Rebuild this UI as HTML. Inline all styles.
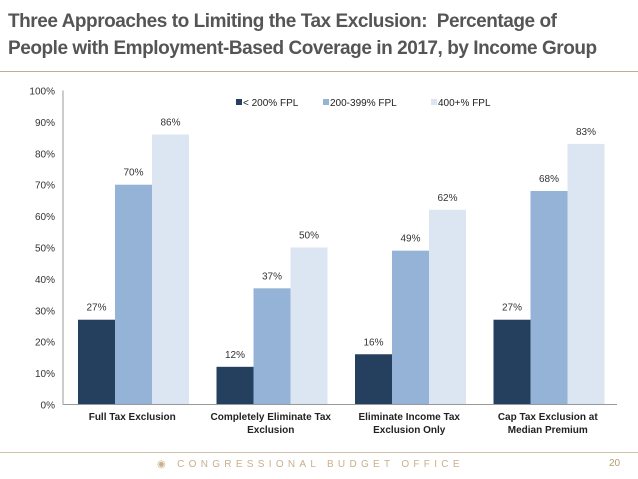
<!DOCTYPE html>
<html><head><meta charset="utf-8"><style>
body{margin:0;width:638px;height:479px;background:#fff;overflow:hidden;position:relative;font-family:"Liberation Sans",sans-serif}
.t{position:absolute;left:8px;top:8px;font-size:19px;font-weight:bold;color:#555;line-height:27px;letter-spacing:-0.45px;font-family:"Liberation Sans",sans-serif}
</style></head><body>
<div class="t">Three Approaches to Limiting the Tax Exclusion:&nbsp; Percentage of<br>People with Employment-Based Coverage in 2017, by Income Group</div>
<div style="position:absolute;left:0;top:71px;width:638px;height:1px;background:#bfae8f"></div>
<svg id="c" width="638" height="479" style="position:absolute;left:0;top:0"></svg>
<div style="position:absolute;left:0;top:452px;width:638px;height:1px;background:#cfc2a8"></div>
<div style="position:absolute;left:157px;top:459px;font-size:10px;letter-spacing:4.3px;color:#c9b08a;white-space:nowrap">◉&nbsp;CONGRESSIONAL BUDGET OFFICE</div>
<div style="position:absolute;left:609px;top:458px;font-size:10px;color:#b89a70">20</div>
<script>
const categories=[["Full Tax Exclusion"],["Completely Eliminate Tax","Exclusion"],["Eliminate Income Tax","Exclusion Only"],["Cap Tax Exclusion at","Median Premium"]];
const seriesNames=["< 200% FPL","200-399% FPL","400+% FPL"];
const low=[27,12,16,27];
const mid=[70,37,49,68];
const high=[86,50,62,83];
const ticks=[0,10,20,30,40,50,60,70,80,90,100];
const colors=["#253f5f","#95b3d7","#dce6f2"];
const NS="http://www.w3.org/2000/svg",svg=document.getElementById('c');
const x0=63,x1=617,yb=404.5,yt=90.5;
const y=v=>yb-(yb-yt)*v/100;
const gw=(x1-x0)/categories.length,bw=37,off=15;
function mk(t,a,txt){const e=document.createElementNS(NS,t);for(const k in a)e.setAttribute(k,a[k]);if(txt!=null)e.textContent=txt;svg.appendChild(e);return e;}
ticks.forEach(v=>{const e=mk('text',{x:55,y:y(v)+4,'text-anchor':'end','font-size':10,fill:'#333','font-family':'Liberation Sans'},v+'%');

});
const series=[low,mid,high];
series.forEach((s,si)=>s.forEach((v,i)=>{
const bx=x0+gw*i+off+bw*si;
const r=mk('rect',{x:bx,y:y(v),width:bw,height:yb-y(v),fill:colors[si]});


const l=mk('text',{x:bx+bw/2,y:y(v)-9,'text-anchor':'middle','font-size':10,fill:'#333','font-family':'Liberation Sans'},v+'%');


}));
const ax=mk('line',{x1:x0,y1:yt,x2:x0,y2:yb,stroke:'#999','stroke-width':1});


const bx=mk('line',{x1:x0,y1:yb,x2:x1,y2:yb,stroke:'#999','stroke-width':1});


categories.forEach((c,i)=>c.forEach((ln,j)=>{
const t=mk('text',{x:x0+gw*i+gw/2,y:420+j*13,'text-anchor':'middle','font-size':10,'font-weight':'bold',fill:'#222','font-family':'Liberation Sans'},ln);


}));
const lx=[236,323,431];
seriesNames.forEach((n,i)=>{
const r=mk('rect',{x:lx[i],y:99,width:6,height:6,fill:colors[i]});


const t=mk('text',{x:lx[i]+7,y:106,'font-size':10,fill:'#222','font-family':'Liberation Sans'},n);


});
</script>
</body></html>
